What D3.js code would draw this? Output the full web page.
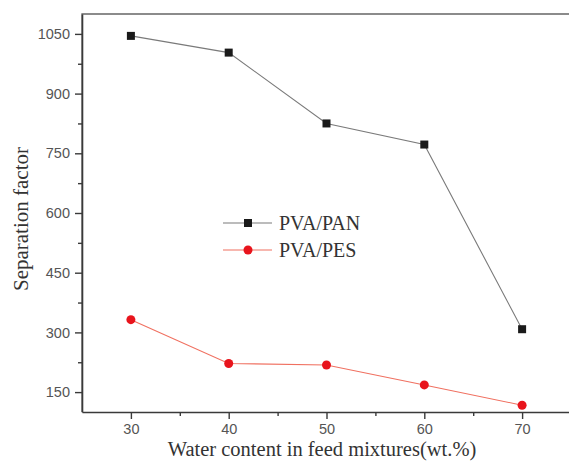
<!DOCTYPE html>
<html>
<head>
<meta charset="utf-8">
<script src="https://cdn.jsdelivr.net/npm/d3@7"></script>
<style>
  html, body { margin: 0; padding: 0; background: #fff; }
  svg { display: block; }
</style>
</head>
<body>
<svg id="chart" width="569" height="464"></svg>
<script>
// Water content in feed (wt.%)
const waterContent = [30, 40, 50, 60, 70];
// Separation factor per membrane
const pvaPan = [1045, 1003, 825, 772, 308];
const pvaPes = [332, 222, 218, 168, 117];
const seriesNames = ["PVA/PAN", "PVA/PES"];
const yTicks = [150, 300, 450, 600, 750, 900, 1050];
const yMinorTicks = [225, 375, 525, 675, 825, 975];
const xTicks = [30, 40, 50, 60, 70];
const xMinorTicks = [35, 45, 55, 65];

const svg = d3.select("#chart");
const plotLeft = 82, plotTop = 14, plotBottom = 412, plotRight = 571;

const x = d3.scaleLinear().domain([25, 75]).range([plotLeft, plotRight]);
const y = d3.scaleLinear().domain([100, 1100]).range([plotBottom, plotTop]);

const axisColor = "#3a3a3a";
const tickTextColor = "#555";

// frame
svg.append("path")
  .attr("d", `M${plotLeft},${plotBottom}V${plotTop}H${plotRight}`)
  .attr("fill", "none").attr("stroke", "#666").attr("stroke-width", 1.3);

// y axis
svg.append("g").attr("transform", `translate(${plotLeft},0)`)
  .call(d3.axisLeft(y).tickValues(yTicks).tickFormat(d3.format("d"))
    .tickSize(7).tickPadding(5).tickSizeOuter(0));
svg.append("g").attr("transform", `translate(${plotLeft},0)`)
  .call(d3.axisLeft(y).tickValues(yMinorTicks).tickSize(4).tickFormat("").tickSizeOuter(0))
  .call(g => g.select(".domain").remove());

// x axis
svg.append("g").attr("transform", `translate(0,${plotBottom})`)
  .call(d3.axisBottom(x).tickValues(xTicks).tickFormat(d3.format("d"))
    .tickSize(7).tickPadding(5).tickSizeOuter(0));
svg.append("g").attr("transform", `translate(0,${plotBottom})`)
  .call(d3.axisBottom(x).tickValues(xMinorTicks).tickSize(4).tickFormat("").tickSizeOuter(0))
  .call(g => g.select(".domain").remove());

svg.selectAll(".domain").attr("stroke", axisColor).attr("stroke-width", 1.6);
svg.selectAll(".tick line").attr("stroke", axisColor).attr("stroke-width", 1.4);
svg.selectAll(".tick text")
  .attr("font-family", "Liberation Sans, Arial, sans-serif")
  .attr("font-size", 14.5)
  .attr("fill", tickTextColor);

// axis titles
svg.append("text")
  .attr("transform", "translate(28,219) rotate(-90)")
  .attr("text-anchor", "middle")
  .attr("font-family", "Liberation Serif, Times New Roman, serif")
  .attr("font-size", 21)
  .attr("fill", "#333")
  .text("Separation factor");

svg.append("text")
  .attr("x", 322).attr("y", 456)
  .attr("text-anchor", "middle")
  .attr("font-family", "Liberation Serif, Times New Roman, serif")
  .attr("font-size", 20.5)
  .attr("fill", "#333")
  .text("Water content in feed mixtures(wt.%)");

// series lines and markers
const line = d3.line().x((d, i) => x(waterContent[i])).y(d => y(d));

svg.append("path").datum(pvaPan)
  .attr("d", line).attr("fill", "none")
  .attr("stroke", "#7a7a7a").attr("stroke-width", 1.1);
svg.append("path").datum(pvaPes)
  .attr("d", line).attr("fill", "none")
  .attr("stroke", "#f07060").attr("stroke-width", 1.1);

const sq = 8;
svg.selectAll(".pan").data(pvaPan).join("rect")
  .attr("class", "pan")
  .attr("x", (d, i) => x(waterContent[i]) - sq / 2)
  .attr("y", d => y(d) - sq / 2)
  .attr("width", sq).attr("height", sq)
  .attr("fill", "#1a1a1a");

svg.selectAll(".pes").data(pvaPes).join("circle")
  .attr("class", "pes")
  .attr("cx", (d, i) => x(waterContent[i]))
  .attr("cy", d => y(d))
  .attr("r", 4.5)
  .attr("fill", "#e8141c");

// legend
const legend = svg.append("g");
const legendRows = [
  { name: seriesNames[0], y: 223, stroke: "#7a7a7a", fill: "#1a1a1a", shape: "square" },
  { name: seriesNames[1], y: 250, stroke: "#f07060", fill: "#e8141c", shape: "circle" }
];
legendRows.forEach(r => {
  legend.append("line")
    .attr("x1", 223).attr("x2", 272).attr("y1", r.y).attr("y2", r.y)
    .attr("stroke", r.stroke).attr("stroke-width", 1.1);
  if (r.shape === "square") {
    legend.append("rect").attr("x", 248 - sq / 2).attr("y", r.y - sq / 2)
      .attr("width", sq).attr("height", sq).attr("fill", r.fill);
  } else {
    legend.append("circle").attr("cx", 248).attr("cy", r.y).attr("r", 4.5).attr("fill", r.fill);
  }
  legend.append("text")
    .attr("x", 279).attr("y", r.y + 7)
    .attr("font-family", "Liberation Serif, Times New Roman, serif")
    .attr("font-size", 20)
    .attr("fill", "#333")
    .text(r.name);
});
</script>
</body>
</html>
